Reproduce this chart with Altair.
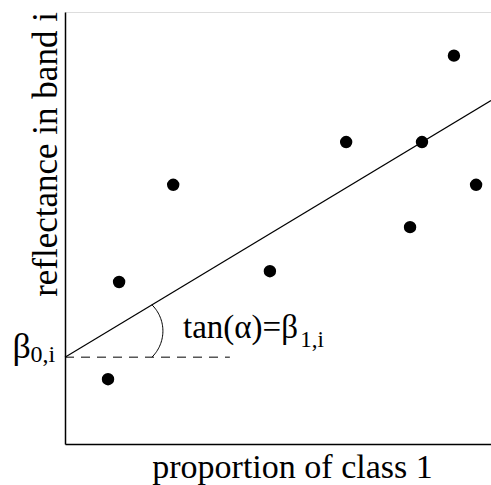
import altair as alt
import numpy as np
import pandas as pd

# Observations: proportion of class 1 vs. reflectance in band i
prop_class1 = [0.101, 0.127, 0.254, 0.481, 0.660, 0.810, 0.838, 0.913, 0.965]
reflectance = [0.150, 0.375, 0.600, 0.400, 0.699, 0.502, 0.699, 0.899, 0.600]

# Fitted linear model: reflectance = beta0 + beta1 * proportion
beta0 = 0.201
beta1 = 0.594
x_range = [0.0, 1.0]
dash_end = 0.387

FONT = "Liberation Serif"
W, H = 426, 432  # plot area in pixels

xs = alt.Scale(domain=[0, 1], nice=False, zero=False)
ys = alt.Scale(domain=[0, 1], nice=False, zero=False)

points_df = pd.DataFrame({"p": prop_class1, "r": reflectance})
fit_df = pd.DataFrame({"p": x_range, "r": [beta0 + beta1 * v for v in x_range]})

# Angle marker: circular arc (in pixel space) joining the fitted line and the
# horizontal reference at x = 0.204, bulging to the right.
xa = 0.204
p_top = np.array([xa * W, (beta0 + beta1 * xa) * H])
p_bot = np.array([xa * W, beta0 * H])
bulge = 11.0
chord = p_top[1] - p_bot[1]
rad = ((chord / 2) ** 2 + bulge ** 2) / (2 * bulge)
cx = xa * W + bulge - rad
cy = (p_top[1] + p_bot[1]) / 2
a0 = np.arctan2(p_bot[1] - cy, p_bot[0] - cx)
a1 = np.arctan2(p_top[1] - cy, p_top[0] - cx)
ang = np.linspace(a0, a1, 40)
arc_df = pd.DataFrame({
    "p": (cx + rad * np.cos(ang)) / W,
    "r": (cy + rad * np.sin(ang)) / H,
    "k": np.arange(len(ang)),
})

base_x = alt.X("p:Q", scale=xs,
               axis=alt.Axis(title="proportion of class 1", ticks=False, labels=False,
                             grid=False, domainColor="black", domainWidth=1.5,
                             titleFont=FONT, titleFontSize=34, titleFontWeight="normal",
                             titleColor="black", titleX=227, titleY=33,
                             titleBaseline="alphabetic", titleAlign="center"))
base_y = alt.Y("r:Q", scale=ys,
               axis=alt.Axis(title="reflectance in band i", ticks=False, labels=False,
                             grid=False, domainColor="black", domainWidth=1.5,
                             titleFont=FONT, titleFontSize=35, titleFontWeight="normal",
                             titleColor="black", titleX=-9, titleY=142,
                             titleBaseline="alphabetic", titleAlign="center", titleAngle=-90))

points = alt.Chart(points_df).mark_circle(size=154, color="black", opacity=1).encode(
    x=base_x, y=base_y)

fit = alt.Chart(fit_df).mark_line(color="black", strokeWidth=1.2).encode(
    x=alt.X("p:Q", scale=xs), y=alt.Y("r:Q", scale=ys))

dash = alt.Chart(pd.DataFrame({"p": [0.0], "p2": [dash_end], "r": [beta0]})).mark_rule(
    color="black", strokeWidth=1, strokeDash=[9, 7]).encode(
    x=alt.X("p:Q", scale=xs), x2="p2:Q", y=alt.Y("r:Q", scale=ys))

arc = alt.Chart(arc_df).mark_line(color="black", strokeWidth=1).encode(
    x=alt.X("p:Q", scale=xs), y=alt.Y("r:Q", scale=ys), order="k:Q")

labels_df = pd.DataFrame({
    "p": [-0.123, -0.081, 0.277, 0.552],
    "r": [0.199, 0.190, 0.245, 0.225],
    "t": ["β", "0,i", "tan(α)=β", "1,i"],
    "s": [36, 24, 33, 23],
})
labels = alt.Chart(labels_df).mark_text(
    font=FONT, color="black", align="left", baseline="alphabetic").encode(
    x=alt.X("p:Q", scale=xs), y=alt.Y("r:Q", scale=ys), text="t:N",
    size=alt.Size("s:Q", scale=None))

chart = alt.layer(points, fit, dash, arc, labels).properties(
    width=W, height=H,
    autosize=alt.AutoSizeParams(type="none"),
    padding={"left": 65, "top": 12, "right": 0, "bottom": 41},
).configure_view(stroke=None).configure(background="white")

chart.save("out.html", embed_options={"renderer": "svg", "actions": False})
